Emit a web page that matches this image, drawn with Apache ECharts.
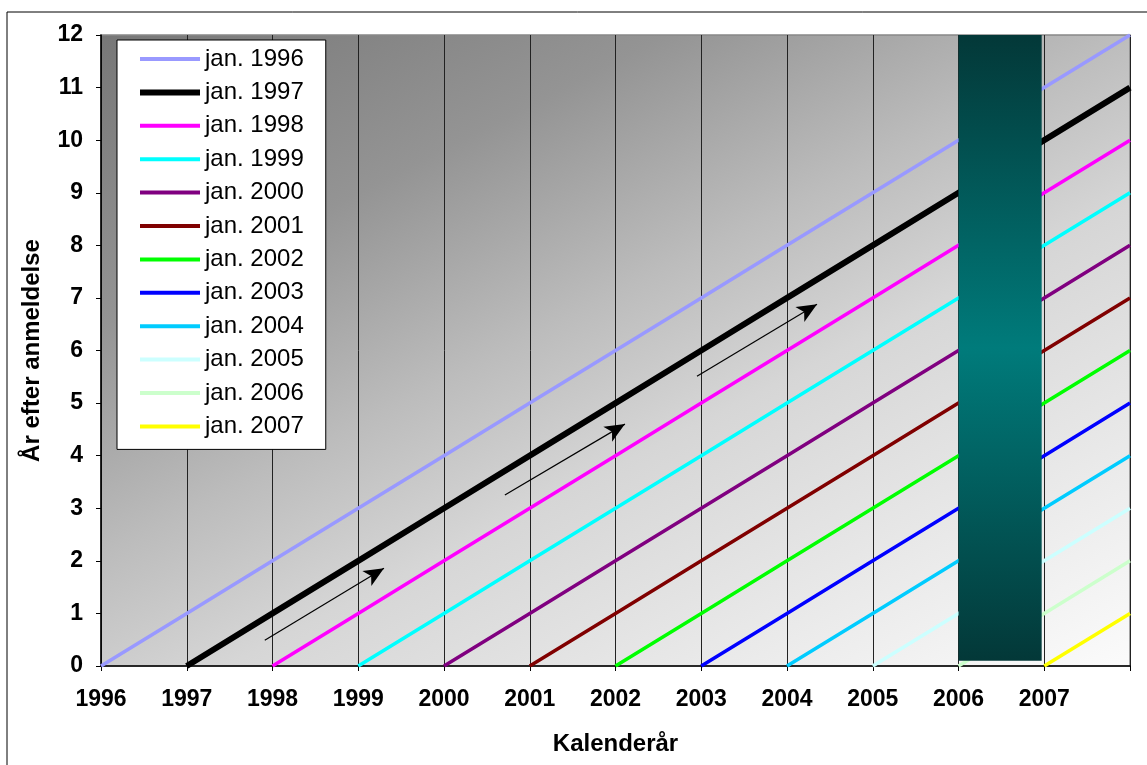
<!DOCTYPE html>
<html>
<head>
<meta charset="utf-8">
<script src="https://cdn.jsdelivr.net/npm/echarts@6/dist/echarts.min.js"></script>
<style>html,body{margin:0;padding:0;background:#fff;}#c{width:1147px;height:765px;}</style>
</head>
<body>
<div id="c"></div>
<script>
var years = [1996,1997,1998,1999,2000,2001,2002,2003,2004,2005,2006,2007,2008];
var seriesNames = ['jan. 1996','jan. 1997','jan. 1998','jan. 1999','jan. 2000','jan. 2001','jan. 2002','jan. 2003','jan. 2004','jan. 2005','jan. 2006','jan. 2007'];
var seriesColors = ['#9999ff','#000000','#ff00ff','#00ffff','#800080','#800000','#00ff00','#0000ff','#00ccff','#ccffff','#ccffcc','#ffff00'];
var jan1996 = [0,1,2,3,4,5,6,7,8,9,10,11,12];
var jan1997 = [null,0,1,2,3,4,5,6,7,8,9,10,11];
var jan1998 = [null,null,0,1,2,3,4,5,6,7,8,9,10];
var jan1999 = [null,null,null,0,1,2,3,4,5,6,7,8,9];
var jan2000 = [null,null,null,null,0,1,2,3,4,5,6,7,8];
var jan2001 = [null,null,null,null,null,0,1,2,3,4,5,6,7];
var jan2002 = [null,null,null,null,null,null,0,1,2,3,4,5,6];
var jan2003 = [null,null,null,null,null,null,null,0,1,2,3,4,5];
var jan2004 = [null,null,null,null,null,null,null,null,0,1,2,3,4];
var jan2005 = [null,null,null,null,null,null,null,null,null,0,1,2,3];
var jan2006 = [null,null,null,null,null,null,null,null,null,null,0,1,2];
var jan2007 = [null,null,null,null,null,null,null,null,null,null,null,0,1];
var seriesValues = [jan1996,jan1997,jan1998,jan1999,jan2000,jan2001,jan2002,jan2003,jan2004,jan2005,jan2006,jan2007];
var yTicks = [0,12];
// arrows: [x1, y1, x2, y2] in data units
var arrows = [
  [1997.91, 0.49, 1999.30, 1.86],
  [2000.71, 3.25, 2002.11, 4.60],
  [2002.95, 5.51, 2004.35, 6.88]
];
// shaded band (year span, value span)
var band = [2006, 0.1, 2006.97, 12];

var chart = echarts.init(document.getElementById('c'));
var font = 'Liberation Sans, Arial, sans-serif';

function lineIcon(th){
  var a = 10 - th/2, b = 10 + th/2;
  return 'path://M0,0L0,0M60,20L60,20M0,' + a + 'L60,' + a + 'L60,' + b + 'L0,' + b + 'Z';
}

var series = seriesNames.map(function(n, i){
  return {
    name: n,
    type: 'line',
    symbol: 'none',
    z: 3,
    data: years.map(function(y, k){ return [y, seriesValues[i][k]]; }),
    lineStyle: { color: seriesColors[i], width: i === 1 ? 6 : 3.5 },
    itemStyle: { color: seriesColors[i] },
    connectNulls: false
  };
});

series.push({
  name: '_overlay',
  type: 'line',
  data: [],
  z: 10,
  markArea: {
    silent: true,
    z: 10,
    itemStyle: {
      color: new echarts.graphic.LinearGradient(0, 0, 0, 1, [
        {offset: 0, color: '#033838'},
        {offset: 0.5, color: '#007b7b'},
        {offset: 1, color: '#033838'}
      ]),
      opacity: 1
    },
    data: [[{coord: [band[0], band[3]]}, {coord: [band[2], band[1]]}]]
  },
  markLine: {
    silent: true,
    symbol: ['none', 'arrow'],
    symbolSize: [13, 20],
    label: {show: false},
    lineStyle: {color: '#000', width: 1.2, type: 'solid'},
    data: arrows.map(function(a){ return [{coord: [a[0], a[1]]}, {coord: [a[2], a[3]]}]; })
  }
});

chart.setOption({
  animation: false,
  backgroundColor: '#fff',
  graphic: [{
    type: 'rect', z: -1,
    shape: {x: 7, y: 12, width: 1200, height: 800},
    style: {fill: 'none', stroke: '#000', lineWidth: 1}
  }],
  grid: {
    left: 101, right: 17, top: 35, bottom: 99,
    show: true,
    borderColor: '#888', borderWidth: 1.5,
    backgroundColor: new echarts.graphic.LinearGradient(101, 35, 571, 953, [
      {offset: 0, color: '#777777'},
      {offset: 0.25, color: '#949494'},
      {offset: 0.45, color: '#bcbcbc'},
      {offset: 0.6, color: '#d6d6d6'},
      {offset: 1, color: '#fbfbfb'}
    ], true)
  },
  legend: {
    data: seriesNames.map(function(n, i){
      return {name: n, icon: lineIcon(i === 1 ? 6 : 4)};
    }),
    orient: 'vertical',
    left: 117, top: 40,
    backgroundColor: '#fff',
    borderColor: '#000', borderWidth: 1, borderRadius: 0,
    padding: [7, 22, 11, 23],
    itemWidth: 60, itemHeight: 20, itemGap: 9.4,
    textStyle: {fontFamily: font, fontSize: 24, color: '#000'},
    selectedMode: false
  },
  xAxis: {
    type: 'value', min: 1996, max: 2008, interval: 1,
    name: 'Kalenderår', nameLocation: 'middle', nameGap: 66,
    nameTextStyle: {fontFamily: font, fontSize: 24, fontWeight: 'bold', color: '#000'},
    axisLine: {show: true, onZero: false, lineStyle: {color: '#000', width: 1.5}},
    axisTick: {show: true, length: 5, lineStyle: {color: '#000'}},
    axisLabel: {
      margin: 22, fontFamily: font, fontSize: 23, fontWeight: 'bold', color: '#000',
      formatter: function(v){ return v === 2008 ? '' : String(v); }
    },
    splitLine: {show: true, lineStyle: {color: '#222', width: 1}}
  },
  yAxis: {
    type: 'value', min: yTicks[0], max: yTicks[1], interval: 1,
    name: 'År efter anmeldelse', nameLocation: 'middle', nameGap: 57, nameRotate: 90,
    nameTextStyle: {fontFamily: font, fontSize: 24, fontWeight: 'bold', color: '#000'},
    axisLine: {show: true, onZero: false, lineStyle: {color: '#000', width: 1.5}},
    axisTick: {show: true, length: 5, lineStyle: {color: '#000'}},
    axisLabel: {margin: 18, fontFamily: font, fontSize: 23, fontWeight: 'bold', color: '#000'},
    splitLine: {show: false}
  },
  series: series
});
</script>
</body>
</html>
